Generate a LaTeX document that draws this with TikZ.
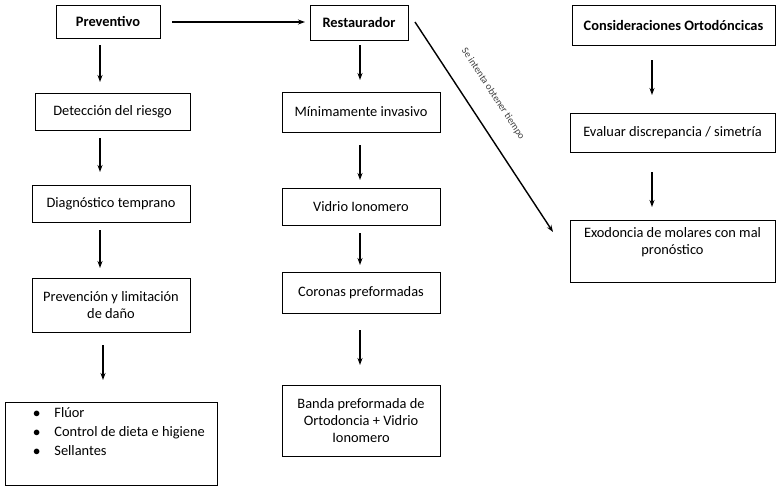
\documentclass[tikz,border=0pt]{standalone}
\usepackage{fontspec}
\setmainfont{Carlito}
\usetikzlibrary{arrows.meta}
\begin{document}
\begin{tikzpicture}[x=1pt,y=-1pt,
  box/.style={draw,line width=0.8pt,inner sep=0pt,align=center,font=\fontsize{14.4}{17}\selectfont},
  arr/.style={-{Stealth[length=7pt,width=5pt]},line width=1.4pt}]
\useasboundingbox (0,0) rectangle (780,493);
\newcommand\bx[6]{\node[box,minimum width=#4-#2,minimum height=#5-#3] (#1) at ({(#2+#4)/2},{(#3+#5)/2}) {#6};}
\bx{prev}{56}{5}{160}{38}{\bfseries Preventivo}
\bx{rest}{310}{5}{408}{40}{\bfseries Restaurador}
\bx{cons}{572}{5}{775}{45}{\bfseries Consideraciones Ortodóncicas}
\bx{det}{35}{93}{190}{130}{Detección del riesgo}
\bx{diag}{32}{185}{190}{222}{Diagnóstico temprano}
\bx{prevl}{32}{278}{190}{332}{Prevención y limitación\\de daño}
\node[draw,line width=0.8pt,minimum width=212pt,minimum height=83pt,inner sep=0pt] (bul) at (111,443.5) {};
\node[anchor=north west,align=left,font=\fontsize{14.4}{17}\selectfont,inner sep=0pt] (bt) at (33,407) {$\bullet$\hspace{14pt}Flúor\\[2pt]$\bullet$\hspace{14pt}Control de dieta e higiene\\[2pt]$\bullet$\hspace{14pt}Sellantes};
\bx{min}{282}{92}{440}{132}{Mínimamente invasivo}
\bx{vid}{282}{188}{440}{225}{Vidrio Ionomero}
\bx{cor}{282}{272}{440}{313}{Coronas preformadas}
\bx{ban}{282}{385}{440}{456}{Banda preformada de\\Ortodoncia + Vidrio\\Ionomero}
\bx{eva}{570}{113}{775}{152}{Evaluar discrepancia / simetría}
\bx{exo}{570}{220}{775}{282}{}
\node[anchor=north,align=center,font=\fontsize{14.4}{17}\selectfont,inner sep=0pt] (exot) at (672.5,227) {Exodoncia de molares con mal\\pronóstico};
\coordinate (d1) at (415,22);
\coordinate (d2) at (553,232);
\draw[arr] (172,22) -- (305,22);
\draw[arr] (100,45) -- (100,82);
\draw[arr] (100,138) -- (100,172);
\draw[arr] (100,230) -- (100,268);
\draw[arr] (103,345) -- (103,380);
\draw[arr] (360,45) -- (360,80);
\draw[arr] (360,145) -- (360,180);
\draw[arr] (360,233) -- (360,265);
\draw[arr] (360,330) -- (360,365);
\draw[arr] (652,60) -- (652,95);
\draw[arr] (652,172) -- (652,207);
\draw[arr] (d1) -- (d2);
\node[rotate=-56.7,font=\fontsize{10}{11}\selectfont,text=black!75,inner sep=0pt] (lbl) at (493,94) {Se intenta obtener tiempo};
\end{tikzpicture}
\end{document}
